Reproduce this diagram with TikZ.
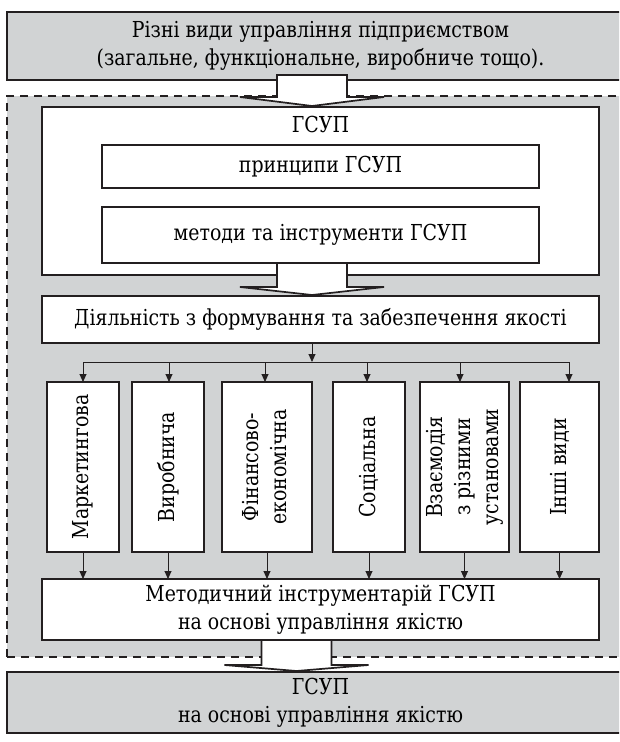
\documentclass[tikz,border=0pt]{standalone}
\usepackage{fontspec}
\setmainfont[FakeStretch=0.86]{DejaVu Serif}
\usetikzlibrary{arrows.meta,calc}

\definecolor{sirij}{RGB}{209,211,212}
\definecolor{lin}{RGB}{35,31,32}

% block arrow: start point, tip, height of the head
\newcommand{\blokstrilka}[3]{%
  \draw[blok] let \p1=(#1), \p2=(#2) in
    (\x2-35,\y1) -- (\x2-35,\y2+#3) -- (\x2-72,\y2+#3) -- (\p2)
    -- (\x2+72,\y2+#3) -- (\x2+35,\y2+#3) -- (\x2+35,\y1) -- cycle;}

\begin{document}
\begin{tikzpicture}[x=1pt,y=-1pt,
    tekst/.style={font=\fontsize{22}{28}\selectfont},
    box/.style={tekst,draw=lin,line width=1.7pt,fill=white,inner sep=0pt,outer sep=0pt,align=center},
    greybox/.style={box,fill=sirij},
    vbox/.style={box,minimum height=170},
    zone/.style={draw=lin,line width=1.7pt,dash pattern=on 8pt off 6pt,fill=sirij,inner sep=0pt,outer sep=0pt},
    arr/.style={draw=lin,line width=0.9pt,-{Triangle[length=8pt,width=7pt]}},
    blok/.style={draw=lin,line width=1.7pt,fill=white,line join=miter}]

    \useasboundingbox (0,0) rectangle (619,742);
    \clip (0,0) rectangle (619,742);

    % outer frames
    \node[greybox,minimum width=627,minimum height=68] (vydy) at (320.5,46)
        {Різні види управління підприємством\\(загальне, функціональне, виробниче тощо).};
    \node[zone,minimum width=633,minimum height=561] (zona) at (323.5,376.5) {};
    \node[greybox,minimum width=627,minimum height=61] (rezult) at (320.5,702.5)
        {ГСУП\\на основі управління якістю};

    % ГСУП block
    \node[box,minimum width=557,minimum height=168] (gsup) at (320.5,191) {};
    \node[tekst] (gsupnazva) at (320.5,124) {ГСУП};
    \node[box,minimum width=437,minimum height=43] (pryntsypy) at (320.5,166.5) {принципи ГСУП};
    \node[box,minimum width=437,minimum height=56] (metody) at (320.5,235) {методи та інструменти ГСУП};

    \node[box,minimum width=557,minimum height=47] (dial) at (320.5,319.5)
        {Діяльність з формування та забезпечення якості};

    % kinds of activity
    \node[vbox,minimum width=72] (vid1) at (83,467) {\rotatebox{90}{Маркетингова}};
    \node[vbox,minimum width=72] (vid2) at (168,467) {\rotatebox{90}{Виробнича}};
    \node[vbox,minimum width=90] (vid3) at (267,467)
        {\rotatebox{90}{\begin{tabular}{@{}c@{}}Фінансово-\\економічна\end{tabular}}};
    \node[vbox,minimum width=72] (vid4) at (369,467) {\rotatebox{90}{Соціальна}};
    \node[vbox,minimum width=89] (vid5) at (464.5,467)
        {\rotatebox{90}{\begin{tabular}{@{}c@{}}Взаємодія\\з різними\\установами\end{tabular}}};
    \node[vbox,minimum width=79] (vid6) at (559.5,467) {\rotatebox{90}{Інші види}};

    \node[box,minimum width=557,minimum height=61] (metod) at (320.5,609.5)
        {Методичний інструментарій ГСУП\\на основі управління якістю};

    % thin arrows
    \coordinate (shyna) at (312,362);
    \draw[arr] (dial.south -| shyna) -- (shyna);
    \draw[draw=lin,line width=0.9pt] ($(vid1.north)+(0,-20)$) -- ($(vid6.north)+(9.5,-20)$);
    \foreach \n/\dx in {1/0,2/1,3/-2,4/-2,5/-4.5,6/9.5}
        \draw[arr] ($(vid\n.north)+(\dx,-20)$) -- ($(vid\n.north)+(\dx,0)$);
    \foreach \n in {1,...,6}
        \draw[arr] (vid\n.south) -- (vid\n.south |- metod.north);

    % block arrows
    \coordinate (s1) at (312,75);   \coordinate (t1) at (312,106);
    \coordinate (s2) at (312,263);  \coordinate (t2) at (312,295);
    \coordinate (s3) at (296.5,640); \coordinate (t3) at (296.5,671);
    \blokstrilka{s1}{t1}{9}
    \blokstrilka{s2}{t2}{8}
    \blokstrilka{s3}{t3}{6}

\end{tikzpicture}
\end{document}
